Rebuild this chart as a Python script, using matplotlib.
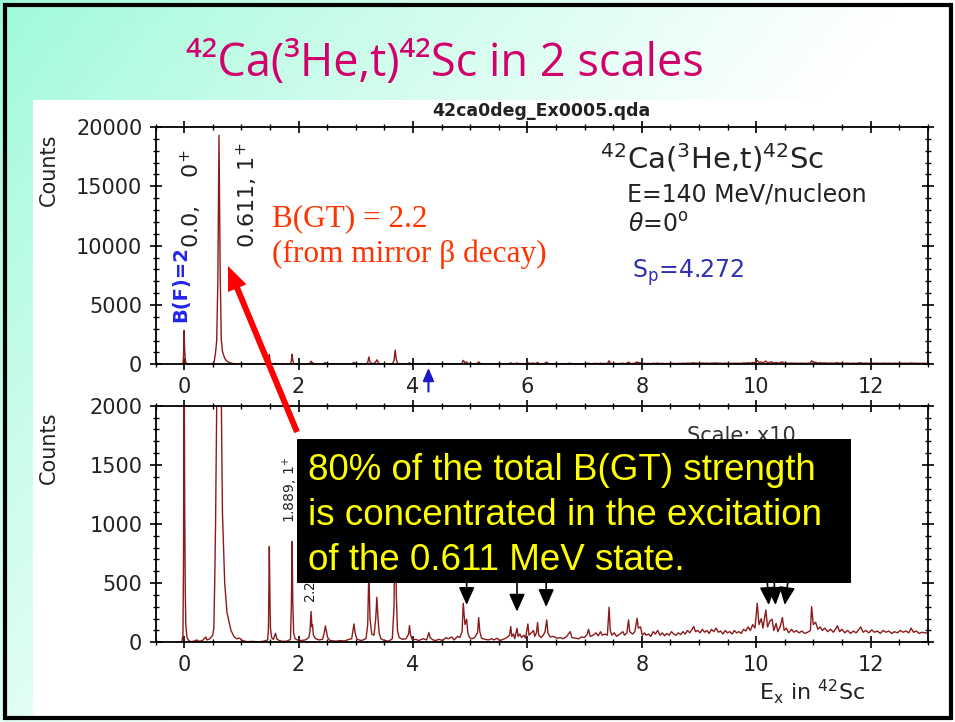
import numpy as np
import matplotlib
matplotlib.use("Agg")
import matplotlib.pyplot as plt
import matplotlib.patches as mpatches
from matplotlib.ticker import MultipleLocator

# 42Ca(3He,t)42Sc at 0 deg, spectrum vertices as (Ex [MeV], counts)
gs_region = [
    (-0.10, 0), (-0.04, 5), (-0.02, 60), (-0.01, 700), (0.00, 2850), (0.01, 1200),
    (0.02, 450), (0.03, 150), (0.05, 40), (0.08, 15), (0.12, 5), (0.18, 10),
    (0.22, 20), (0.26, 8), (0.32, 15), (0.38, 45), (0.40, 20), (0.45, 30),
]
gt_peak = [
    (0.50, 60), (0.52, 120), (0.535, 500), (0.55, 1000), (0.57, 2000), (0.59, 7000),
    (0.60, 13000), (0.61, 19300), (0.62, 14000), (0.63, 8000), (0.65, 2100),
    (0.67, 1100), (0.71, 500), (0.75, 250), (0.82, 100), (0.87, 50), (0.92, 30),
    (0.97, 35), (1.02, 15),
]
low_states = [
    (1.10, 5), (1.20, 8), (1.30, 3), (1.40, 10), (1.46, 20),
    (1.475, 120), (1.49, 810), (1.50, 400), (1.51, 120), (1.53, 40), (1.56, 25),
    (1.60, 76), (1.62, 30), (1.66, 15), (1.72, 8), (1.80, 10), (1.86, 25),
    (1.875, 300), (1.889, 853), (1.90, 350), (1.915, 80), (1.94, 30), (1.98, 20),
    (2.05, 15), (2.12, 20), (2.18, 40), (2.20, 90), (2.22, 260), (2.235, 130),
    (2.245, 150), (2.26, 60), (2.30, 30), (2.36, 20), (2.42, 25), (2.45, 80),
    (2.47, 138), (2.49, 90), (2.51, 40), (2.55, 15), (2.65, 10), (2.75, 15),
    (2.80, 10), (2.88, 25), (2.93, 30), (2.95, 90), (2.97, 155), (2.99, 80),
    (3.02, 25), (3.10, 15), (3.18, 30), (3.21, 150), (3.23, 620), (3.25, 200),
    (3.28, 70), (3.32, 60), (3.35, 200), (3.37, 381), (3.39, 200), (3.41, 80),
    (3.44, 30), (3.50, 15), (3.58, 10), (3.64, 30), (3.67, 300), (3.69, 1200),
    (3.71, 400), (3.73, 100), (3.76, 40), (3.82, 25), (3.88, 30), (3.925, 70),
    (3.94, 141), (3.96, 60), (3.99, 20), (4.05, 25), (4.10, 15), (4.18, 30),
    (4.24, 20), (4.28, 82), (4.30, 40), (4.35, 20), (4.40, 15), (4.45, 25),
    (4.52, 15), (4.58, 40), (4.62, 30), (4.68, 45), (4.72, 20), (4.78, 50),
    (4.82, 40), (4.86, 90),
]
mid_region = [
    (4.88, 330), (4.91, 150), (4.94, 195), (4.96, 80), (4.99, 40), (5.03, 30),
    (5.08, 40), (5.13, 80), (5.15, 209), (5.17, 90), (5.20, 35), (5.26, 25),
    (5.32, 20), (5.38, 30), (5.42, 20), (5.47, 35), (5.52, 15), (5.58, 25),
    (5.64, 40), (5.69, 60), (5.71, 133), (5.73, 50), (5.76, 70), (5.78, 30),
    (5.82, 118), (5.84, 50), (5.87, 70), (5.90, 40), (5.94, 60), (5.97, 35),
    (6.01, 155), (6.03, 60), (6.07, 80), (6.11, 100), (6.13, 50), (6.16, 80),
    (6.18, 167), (6.20, 60), (6.24, 40), (6.28, 60), (6.31, 90), (6.34, 189),
    (6.36, 80), (6.40, 45), (6.45, 50), (6.52, 35), (6.58, 40), (6.62, 30),
    (6.68, 45), (6.75, 90), (6.78, 40), (6.84, 35), (6.90, 30), (6.95, 45),
    (7.00, 40), (7.05, 70), (7.07, 110), (7.10, 50), (7.15, 60), (7.20, 80),
    (7.24, 55), (7.28, 90), (7.31, 60), (7.36, 70), (7.40, 60), (7.43, 297),
    (7.45, 100), (7.48, 60), (7.52, 80), (7.56, 50), (7.62, 70), (7.67, 90),
    (7.70, 60), (7.74, 80), (7.77, 189), (7.79, 90), (7.84, 70), (7.88, 90),
    (7.92, 203), (7.94, 120), (7.98, 130), (8.01, 60),
]
continuum = [
    (8.05, 80), (8.08, 60), (8.12, 70), (8.16, 50), (8.20, 90), (8.24, 70),
    (8.28, 100), (8.32, 60), (8.36, 80), (8.40, 55), (8.44, 75), (8.48, 60),
    (8.52, 90), (8.56, 70), (8.60, 60), (8.64, 80), (8.68, 65), (8.72, 90),
    (8.76, 70), (8.80, 100), (8.84, 80), (8.88, 110), (8.91, 133), (8.94, 90),
    (8.98, 100), (9.02, 80), (9.06, 110), (9.10, 85), (9.14, 100), (9.18, 75),
    (9.22, 110), (9.26, 90), (9.30, 120), (9.34, 85), (9.38, 95), (9.42, 70),
    (9.46, 100), (9.50, 80), (9.54, 90), (9.58, 70), (9.62, 100), (9.66, 80),
    (9.70, 90), (9.74, 75), (9.78, 110), (9.82, 95), (9.86, 130), (9.90, 100),
    (9.94, 150), (9.98, 120), (10.02, 330), (10.05, 150), (10.09, 200),
    (10.12, 120), (10.17, 273), (10.20, 130), (10.24, 180), (10.28, 195),
    (10.31, 100), (10.35, 160), (10.38, 90), (10.42, 130), (10.46, 209),
    (10.49, 100), (10.53, 120), (10.57, 80), (10.62, 110), (10.66, 85),
    (10.70, 100), (10.75, 80), (10.80, 95), (10.85, 75), (10.90, 85),
    (10.95, 100), (10.97, 302), (11.00, 150), (11.04, 170), (11.08, 110),
    (11.12, 130), (11.16, 100), (11.20, 120), (11.25, 90), (11.30, 110),
    (11.35, 85), (11.40, 120), (11.42, 140), (11.46, 90), (11.50, 110),
    (11.55, 80), (11.60, 100), (11.65, 75), (11.70, 95), (11.75, 80),
    (11.80, 110), (11.83, 130), (11.87, 85), (11.92, 100), (11.97, 80),
    (12.02, 105), (12.07, 85), (12.12, 95), (12.17, 75), (12.22, 100),
    (12.27, 85), (12.32, 95), (12.37, 75), (12.42, 90), (12.47, 80),
    (12.52, 100), (12.57, 85), (12.62, 95), (12.67, 80), (12.71, 120),
    (12.75, 85), (12.80, 95), (12.85, 75), (12.90, 85), (12.95, 80), (13.0, 80),
]

# marked states in the x10 panel (arrow tail Ex, arrow tip Ex, tip counts)
arrow_tail_ex = [4.94, 5.82, 6.33, 10.19, 10.31, 10.57]
arrow_tip_ex = [4.94, 5.82, 6.33, 10.22, 10.34, 10.50]
arrow_tip_counts = [316, 259, 299, 316, 316, 316]

s_p = 4.272
note_lines = ["80% of the total B(GT) strength",
              "is concentrated in the excitation",
              "of the 0.611 MeV state."]

spec = np.array(gs_region + gt_peak + low_states + mid_region + continuum)
ex, counts = spec[:, 0], spec[:, 1]

W, H = 955, 722
fig = plt.figure(figsize=(W / 100, H / 100), dpi=100)

# slide background: mint fading to white, white plot card, black frame
bg = fig.add_axes([0, 0, 1, 1], zorder=-5)
gx, gy = np.meshgrid(np.linspace(0, W, 200), np.linspace(0, H, 150))
t = np.clip(gx / 900 + gy / 1100, 0, 1) ** 0.9
mint = np.array([0.62, 0.98, 0.85])
grad = mint[None, None, :] * (1 - t[..., None]) + t[..., None]
bg.imshow(grad, extent=[0, W, H, 0], aspect="auto")
bg.add_patch(mpatches.Rectangle((33, 100), 918, 618, color="white", lw=0))
bg.add_patch(mpatches.Rectangle((5, 5), 946, 713, fill=False, ec="black", lw=3))
bg.set_xlim(0, W)
bg.set_ylim(H, 0)
bg.axis("off")

line_kw = dict(color="#8b1a1a", lw=1.0)


def style_axis(ax, ymax, ymajor, yminor):
    ax.set_facecolor("none")
    ax.set_xlim(-0.5, 13)
    ax.set_ylim(0, ymax)
    ax.xaxis.set_major_locator(MultipleLocator(2))
    ax.xaxis.set_minor_locator(MultipleLocator(0.5))
    ax.yaxis.set_major_locator(MultipleLocator(ymajor))
    ax.yaxis.set_minor_locator(MultipleLocator(yminor))
    ax.tick_params(which="both", direction="inout", top=True, right=True,
                   labelsize=15, labelcolor="#222222", pad=5)
    ax.tick_params(which="major", length=9, width=1.2)
    ax.tick_params(which="minor", length=5, width=1.0)
    for sp in ax.spines.values():
        sp.set_linewidth(1.3)


ax1 = fig.add_axes([155.5 / W, 1 - 364.3 / H, 772.2 / W, 237.3 / H])
ax1.plot(ex, counts, **line_kw)
style_axis(ax1, 20000, 5000, 1000)
ax1.annotate("", xy=(s_p, -0.015), xycoords=("data", "axes fraction"),
             xytext=(s_p, -0.115), textcoords=("data", "axes fraction"),
             arrowprops=dict(arrowstyle="-|>,head_length=0.7,head_width=0.3",
                             color="#1a1acc", lw=1.5, mutation_scale=11,
                             shrinkA=0, shrinkB=0),
             annotation_clip=False)

ax2 = fig.add_axes([155.5 / W, 1 - 642.3 / H, 772.2 / W, 236.6 / H])
ax2.plot(ex, counts, **line_kw)
style_axis(ax2, 2000, 500, 100)
for x0, x1, c in zip(arrow_tail_ex, arrow_tip_ex, arrow_tip_counts):
    ax2.annotate("", xy=(x1, c), xytext=(x0, 560),
                 arrowprops=dict(arrowstyle="-|>,head_length=0.9,head_width=0.4",
                                 color="black", lw=1.2, mutation_scale=12,
                                 shrinkA=0, shrinkB=0))
ax2.text(1.865, 1010, "1.889, 1$^{+}$", rotation=90, ha="center", va="bottom",
         fontsize=10, color="#222222")
ax2.text(2.22, 334, "2.223, 1$^{+}$", rotation=90, ha="center", va="bottom",
         fontsize=10, color="#222222")
ax2.text(8.8, 1830, "Scale: x10", ha="left", va="top", fontsize=15,
         color="#333333")

# overlay in pixel coordinates for slide texts and callouts
ov = fig.add_axes([0, 0, 1, 1], zorder=10)
ov.set_xlim(0, W)
ov.set_ylim(H, 0)
ov.axis("off")

ov.text(186, 76, "⁴²Ca(³He,t)⁴²Sc in 2 scales", fontsize=32.5,
        family="Open Sans", color="#d1006a", ha="left", va="baseline")
ov.text(541, 116, "42ca0deg_Ex0005.qda", fontsize=12.5, fontweight="bold",
        ha="center", va="baseline", color="#222222")
for yc in (170, 448):
    ov.text(49, yc, "Counts", rotation=90, ha="center", va="center",
            fontsize=15, color="#222222")

ov.text(181, 322, "B(F)=2", rotation=90, ha="center", va="bottom",
        fontsize=14, fontweight="bold", color="#2424f0")
ov.text(191, 248, "0.0,    0$^{+}$", rotation=90, ha="center", va="bottom",
        fontsize=16, color="#222222")
ov.text(247, 248, "0.611, 1$^{+}$", rotation=90, ha="center", va="bottom",
        fontsize=16, color="#222222")

serif = ["Liberation Serif", "DejaVu Serif"]
ov.text(272, 226, "B(GT) = 2.2", fontsize=22.5, family=serif,
        color="#ff3300", va="baseline")
ov.text(272, 262, "(from mirror β decay)", fontsize=22.5, family=serif,
        color="#ff3300", va="baseline")

ov.text(600, 168, "$^{42}$Ca($^{3}$He,t)$^{42}$Sc", fontsize=21,
        color="#222222", va="baseline")
ov.text(627, 201, "E=140 MeV/nucleon", fontsize=17, color="#222222",
        va="baseline")
ov.text(628, 232, r"$\theta$=0$^{\mathrm{o}}$", fontsize=17,
        color="#222222", va="baseline")
ov.text(632, 278, r"S$_{\mathrm{p}}$=4.272", fontsize=17, color="#3030b0",
        va="baseline")
ov.text(759, 700, r"E$_{\mathrm{x}}$ in $^{42}$Sc", fontsize=16,
        color="#222222", va="baseline")

ov.add_patch(mpatches.FancyArrow(297, 432, -69, -166, width=6, head_width=20,
                                 head_length=24, length_includes_head=True,
                                 color="#ff0000", lw=0))
ov.add_patch(mpatches.Rectangle((297, 439), 554, 144, color="black", lw=0))
for i, txt in enumerate(note_lines):
    ov.text(308, 480 + 45 * i, txt, fontsize=26.5, family="Liberation Sans",
            color="#ffff00", va="baseline")

fig.savefig("out.png", dpi=100)
